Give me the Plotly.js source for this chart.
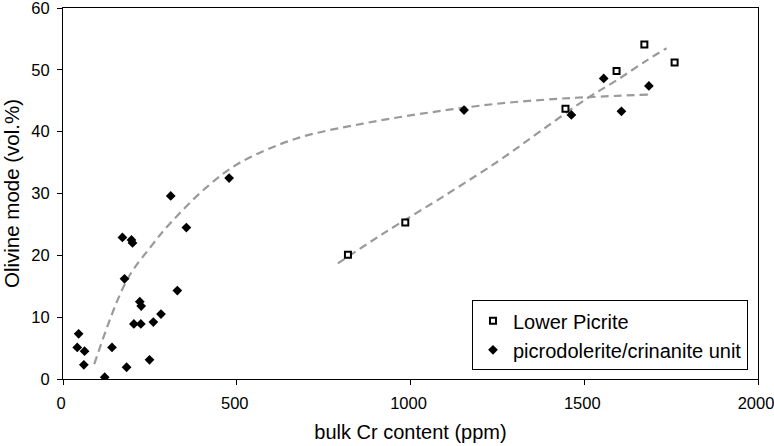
<!DOCTYPE html>
<html>
<head>
<meta charset="utf-8">
<script src="https://cdn.plot.ly/plotly-3.0.1.min.js"></script>
<style>html,body{margin:0;padding:0;background:#fff;}#chart{width:774px;height:446px;}</style>
</head>
<body>
<div id="chart"></div>
<script>
// Lower Picrite (open squares)
const picriteCr = [820, 985, 1446, 1593, 1673, 1760];
const picriteOl = [20.1, 25.3, 43.7, 49.8, 54.1, 51.2];

// picrodolerite/crinanite unit (filled diamonds)
const picroCr = [45, 41, 62, 60, 120, 141, 183, 171, 197, 200, 177, 221, 225, 204, 224, 260, 282, 249, 329, 310, 355, 478, 1154, 1463, 1556, 1607, 1686];
const picroOl = [7.3, 5.1, 4.5, 2.3, 0.3, 5.1, 1.9, 22.9, 22.5, 22.0, 16.2, 12.5, 11.8, 8.9, 8.9, 9.2, 10.5, 3.1, 14.3, 29.6, 24.5, 32.5, 43.5, 42.7, 48.6, 43.3, 47.4];

// Trend lines
const trendPicroCr = [90, 182, 254, 312, 417, 510, 672, 863, 1055, 1247, 1420, 1516, 1686];
const trendPicroOl = [2.4, 15.8, 21.5, 25.4, 31.2, 35.0, 38.9, 41.3, 43.1, 44.5, 45.3, 45.6, 46.0];
const trendPicriteCr = [791, 921, 1108, 1257, 1372, 1506, 1593, 1679, 1737];
const trendPicriteOl = [18.7, 23.5, 30.0, 35.4, 40.0, 45.3, 48.3, 51.5, 53.5];

const seriesNames = ['Lower Picrite', 'picrodolerite/crinanite unit'];
const xTicks = [0, 500, 1000, 1500, 2000];
const yTicks = [0, 10, 20, 30, 40, 50, 60];

const FONT = '"Liberation Sans", Arial, Helvetica, sans-serif';
const dashLine = {color: '#9a9a9a', width: 2.2, dash: '8px,5px', shape: 'spline', smoothing: 1};

const traces = [
  {x: trendPicroCr, y: trendPicroOl, mode: 'lines', line: dashLine, showlegend: false, hoverinfo: 'skip'},
  {x: trendPicriteCr, y: trendPicriteOl, mode: 'lines', line: dashLine, showlegend: false, hoverinfo: 'skip'},
  {x: picriteCr, y: picriteOl, name: seriesNames[0], mode: 'markers', type: 'scatter',
   marker: {symbol: 'square', size: 6, color: '#ffffff', line: {color: '#000000', width: 2}}},
  {x: picroCr, y: picroOl, name: seriesNames[1], mode: 'markers', type: 'scatter',
   marker: {symbol: 'diamond', size: 7.5, color: '#000000', line: {width: 0}}}
];

const layout = {
  width: 774, height: 446,
  margin: {l: 63, r: 16, t: 8, b: 67, pad: 0},
  paper_bgcolor: '#ffffff', plot_bgcolor: '#ffffff',
  font: {family: FONT, color: '#000000', size: 16.5},
  showlegend: true,
  legend: {
    x: 0.9856, xanchor: 'right', y: 0.0234, yanchor: 'bottom',
    bordercolor: '#000000', borderwidth: 1, bgcolor: '#ffffff',
    font: {family: FONT, size: 20, color: '#000000'},
    traceorder: 'normal', tracegroupgap: 0
  },
  xaxis: {
    range: [0, 2000], tickvals: xTicks, ticktext: xTicks.map(String),
    showgrid: false, zeroline: false, showline: true, linecolor: '#000000', linewidth: 1,
    mirror: true, ticks: 'outside', ticklen: 5, tickcolor: '#000000',
    ticklabeloverflow: 'allow', ticklabelstandoff: 4, ticklabelshift: -2,
    tickfont: {family: FONT, size: 16.5, color: '#000000'},
    title: {text: 'bulk Cr content (ppm)', font: {family: FONT, size: 20, color: '#000000'}, standoff: 14}
  },
  yaxis: {
    range: [0, 60], tickvals: yTicks, ticktext: yTicks.map(String),
    showgrid: false, zeroline: false, showline: true, linecolor: '#000000', linewidth: 1,
    mirror: true, ticks: 'outside', ticklen: 5, tickcolor: '#000000',
    ticklabeloverflow: 'allow', ticklabelstandoff: 4,
    tickfont: {family: FONT, size: 16.5, color: '#000000'},
    title: {text: 'Olivine mode (vol.%)', font: {family: FONT, size: 20.5, color: '#000000'}, standoff: 8}
  }
};

Plotly.newPlot('chart', traces, layout, {displayModeBar: false, staticPlot: true});
</script>
</body>
</html>
